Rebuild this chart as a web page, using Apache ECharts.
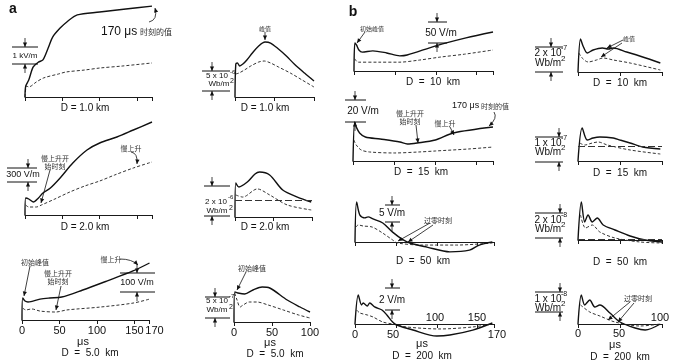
<!DOCTYPE html>
<html><head><meta charset="utf-8">
<script src="https://cdn.jsdelivr.net/npm/echarts@6/dist/echarts.min.js"></script>
<style>html,body{margin:0;padding:0;background:#fff}#c{width:679px;height:363px}</style>
</head><body><div id="c"></div>
<script>
// ---------- data (time in μs, field values in physical units) ----------
// a: D = 1.0 km, E in kV/m ; B in 1e-6 Wb/m2
const a1Solid=[[0,0],[1,0.61],[5,0.94],[11,1.67],[18,1.94],[24,2.06],[31,2.72],[37,3.33],[47,3.83],[56,4.17],[70,4.56],[100,4.72],[135,4.89],[170,5.05]];
const a1Dashed=[[0,0],[2,0.61],[5,0.56],[15,0.83],[25,1.06],[45,1.28],[55,1.39],[80,1.5],[100,1.61],[130,1.72],[170,1.89]];
const a2Solid=[[0,0],[1,7.5],[3,7.73],[6,7.05],[10,7.5],[15,8.41],[22,10],[30,11.59],[38,12.5],[45,12.27],[55,10.91],[65,9.32],[75,7.5],[88,5.45],[100,3.64]];
const a2Dashed=[[1,5.23],[5,5.45],[12,6.14],[20,7.05],[30,7.95],[37,8.18],[45,7.73],[55,6.82],[70,5.45],[85,3.86],[100,2.27]];
// D = 2.0 km, E in V/m ; B in 1e-6 Wb/m2
const a3Solid=[[0,0],[1,340],[5,320],[11,260],[18,340],[24,440],[34,540],[47,740],[64,1040],[83,1300],[100,1440],[123,1560],[145,1700],[170,1860]];
const a3Dashed=[[1,200],[5,160],[15,160],[22,200],[40,320],[60,460],[80,580],[100,680],[120,800],[145,940],[170,1060]];
const a4Solid=[[0,0],[1,2.27],[5,2.0],[16,2.33],[26,2.87],[32,3.0],[45,2.8],[62,1.8],[81,1.33],[99,1.0]];
const a4Dashed=[[1,1.47],[10,1.33],[29,1.87],[45,1.47],[68,0.8],[99,0.47]];
const a4Static=1.13;
// D = 5.0 km, E in V/m ; B in 1e-7 Wb/m2
const a5Solid=[[0,0],[1,116],[4,100],[8,95],[24,110],[37,116],[53,121],[81,158],[113,205],[148,258],[170,300]];
const a5Dashed=[[1,63],[5,53],[13,58],[24,47],[45,42],[60,53],[104,68],[148,89],[170,110]];
const a6Solid=[[0,0],[1,7.5],[5,7.25],[14,7.0],[25,8.0],[37,8.75],[47,8.5],[70,5.5],[87,3.75],[100,2.5]];
const a6Dashed=[[1,7.25],[4,5.5],[8,3.75],[12,4.25],[20,5.0],[30,5.0],[45,4.25],[65,3.0],[85,1.75],[100,1.0]];
// b: D = 10 km, E in V/m ; B in 1e-7 Wb/m2
const b1Solid=[[0,0],[1,67],[3,62],[6,50],[10,45],[23,48],[40,43],[56,36],[65,38],[100,60],[137,79],[170,93]];
const b1Dashed=[[1,29],[5,21],[30,21],[55,21],[80,26],[105,33],[135,40],[170,50]];
const b2Solid=[[0,0],[3,2.64],[6,2.08],[11,1.52],[18,1.76],[29,1.92],[36,1.84],[42,1.92],[58,1.6],[77,1.2],[98,0.72]];
const b2Dashed=[[1,1.52],[5,1.12],[12,0.8],[22,0.96],[30,1.12],[42,0.96],[62,0.72],[98,0.16]];
// D = 15 km, E in V/m ; B in 1e-7 Wb/m2
const b3Solid=[[0,0],[2,35.5],[4,30.9],[8,25.5],[15,21.8],[33,20],[57,17.3],[66,15.5],[78,16.4],[100,19.1],[122,25.5],[170,30.9]];
const b3Dashed=[[1,19.1],[4,14.5],[10,10],[20,8.2],[50,7.3],[80,8.2],[100,9.1],[140,10.9],[170,12.7]];
const b4Solid=[[0,0],[5,1.32],[11,0.84],[18,0.92],[26,0.96],[42,0.92],[50,0.84],[62,0.72],[77,0.56],[98,0.48]];
const b4Dashed=[[2,0.72],[8,0.64],[17,0.72],[24,0.76],[35,0.64],[62,0.44],[98,0.28]];
const b4Static=0.6;
// D = 50 km, E in V/m ; B in 1e-8 Wb/m2
const b5Solid=[[0,0],[2,11.8],[6,7.9],[12,7.1],[16,7.4],[22,6.8],[34,5.6],[46,2.9],[59,0.6],[67,-0.3],[88,-1.5],[116,-2.9],[140,-2.4],[152,-0.9],[168,0]];
const b5Dashed=[[1,4.4],[4,5.0],[10,4.7],[21,4.4],[34,2.6],[46,0.6],[52,-0.3],[83,-0.9],[124,-0.9],[168,-0.3]];
const b7Solid=[[0,0],[4,3.04],[8,1.44],[12,2.0],[17,1.44],[23,1.76],[30,1.2],[44,0.8],[62,0.32],[80,0],[100,-0.16]];
const b7Dashed=[[3,2.0],[9,0.96],[17,1.2],[26,0.64],[44,0.16],[74,-0.16],[100,-0.24]];
const b7Static=0.1;
// D = 200 km, E in V/m ; B in 1e-8 Wb/m2
const b6Solid=[[0,0],[4,2.64],[8,1.73],[10,1.91],[15,1.64],[18,1.91],[24,1.55],[33,1.27],[39,0.82],[46,0.18],[51,-0.09],[71,-0.55],[100,-1.09],[116,-1.0],[144,-0.55],[168,0.09]];
const b6Dashed=[[2,1.27],[6,1.0],[15,0.82],[22,0.64],[34,0.18],[46,0],[63,-0.27],[104,-0.45],[144,-0.27],[168,0]];
const b8Solid=[[0,0],[4,1.45],[8,0.95],[14,1.2],[20,0.85],[26,0.95],[38,0.55],[50,0.1],[68,-0.2],[80,-0.3],[98,0.0]];
const b8Dashed=[[3,0.95],[14,0.6],[26,0.4],[44,0.1],[74,-0.1],[98,0.0]];

const ticks170=[0,50,100,150,170], ticks100=[0,50,100];

// ---------- layout ----------
const panels=[
 {s:a1Solid,d:a1Dashed,x0:25,w:127,tMax:170,axisY:97,ppu:18,yTop:5.3,yBot:0,ticks:ticks170},
 {s:a2Solid,d:a2Dashed,x0:235,w:79,tMax:100,axisY:97,ppu:4.4,yTop:20,yBot:0,ticks:ticks100},
 {s:a3Solid,d:a3Dashed,x0:25,w:127,tMax:170,axisY:215,ppu:0.05,yTop:2000,yBot:0,ticks:ticks170},
 {s:a4Solid,d:a4Dashed,ref:a4Static,x0:235,w:77,tMax:100,axisY:217,ppu:15,yTop:4,yBot:0,ticks:ticks100},
 {s:a5Solid,d:a5Dashed,x0:22,w:127.5,tMax:170,axisY:320,ppu:0.19,yTop:350,yBot:0,ticks:ticks170,labels:ticks170},
 {s:a6Solid,d:a6Dashed,x0:234,w:76,tMax:100,axisY:322,ppu:4,yTop:10,yBot:0,ticks:ticks100,labels:ticks100},
 {s:b1Solid,d:b1Dashed,x0:354,w:139,tMax:170,axisY:71,ppu:0.42,yTop:150,yBot:0,ticks:ticks170},
 {s:b2Solid,d:b2Dashed,x0:578,w:84,tMax:100,axisY:72,ppu:12.5,yTop:4,yBot:0,ticks:ticks100},
 {s:b3Solid,d:b3Dashed,x0:353,w:140,tMax:170,axisY:161,ppu:1.1,yTop:50,yBot:0,ticks:ticks170},
 {s:b4Solid,d:b4Dashed,ref:b4Static,x0:578,w:84,tMax:100,axisY:161,ppu:25,yTop:2,yBot:0,ticks:ticks100},
 {s:b5Solid,d:b5Dashed,x0:355,w:139,tMax:170,axisY:242,ppu:3.4,yTop:14,yBot:-4,ticks:ticks170},
 {s:b7Solid,d:b7Dashed,ref:b7Static,x0:578,w:84,tMax:100,axisY:240,ppu:12.5,yTop:3.5,yBot:-1,ticks:ticks100},
 {s:b6Solid,d:b6Dashed,x0:355,w:139,tMax:170,axisY:324,ppu:11,yTop:3,yBot:-1.6,ticks:ticks170},
 {s:b8Solid,d:b8Dashed,x0:578,w:84,tMax:100,axisY:324,ppu:20,yTop:1.8,yBot:-0.6,ticks:ticks100}
];

const LAT='"Liberation Sans", Arial, sans-serif';
const CJK='"Noto Sans CJK SC", sans-serif';
const grids=[],xAxes=[],yAxes=[],series=[];
panels.forEach((p,i)=>{
  grids.push({left:p.x0,top:p.axisY-p.yTop*p.ppu,width:p.w,height:(p.yTop-p.yBot)*p.ppu,containLabel:false,outerBoundsMode:'none'});
  xAxes.push({gridIndex:i,type:'value',min:0,max:p.tMax,
    axisLine:{onZero:true,lineStyle:{color:'#1a1a1a',width:1.2}},
    axisTick:{show:true,customValues:p.ticks,length:4,lineStyle:{color:'#1a1a1a',width:1}},
    axisLabel:{show:!!p.labels,customValues:p.labels||p.ticks,margin:5,color:'#111',fontSize:11,fontFamily:LAT,
      formatter:v=>v===170?'{r|170}':String(v),
      rich:{r:{fontSize:11,fontFamily:LAT,color:'#111',padding:[0,0,0,10]}}},
    splitLine:{show:false}});
  yAxes.push({gridIndex:i,type:'value',min:p.yBot,max:p.yTop,show:false});
  series.push({type:'line',xAxisIndex:i,yAxisIndex:i,data:p.s,showSymbol:false,smooth:0.3,silent:true,z:3,
    lineStyle:{color:'#111',width:1.4}});
  const ds={type:'line',xAxisIndex:i,yAxisIndex:i,data:p.d,showSymbol:false,smooth:0.3,silent:true,z:2,
    lineStyle:{color:'#333',width:1,type:[3,2]}};
  if(p.ref!==undefined){ds.markLine={silent:true,symbol:'none',label:{show:false},animation:false,
    lineStyle:{color:'#333',width:1,type:[7,3]},data:[{yAxis:p.ref}]};}
  series.push(ds);
});

// ---------- annotations ----------
const G=[];
function T(x,y,s,size,o){o=o||{};G.push({type:'text',x:x,y:y,silent:true,z:10,style:{text:s,
  font:(o.bold?'bold ':'')+size+'px '+(o.cjk?CJK:LAT),fill:o.color||'#111',
  textAlign:o.align||'center',align:o.align||'center',textVerticalAlign:'middle',verticalAlign:'middle'}});}
function L(x1,y1,x2,y2,w){G.push({type:'line',silent:true,z:10,shape:{x1:x1,y1:y1,x2:x2,y2:y2},style:{stroke:'#111',lineWidth:w||1}});}
function H(x1,y1,x2,y2,s){s=s||3;const dx=x2-x1,dy=y2-y1,len=Math.hypot(dx,dy)||1,ux=dx/len,uy=dy/len;
  const bx=x2-ux*s*1.5,by=y2-uy*s*1.5;
  G.push({type:'polygon',silent:true,z:10,shape:{points:[[x2,y2],[bx-uy*s*0.7,by+ux*s*0.7],[bx+uy*s*0.7,by-ux*s*0.7]]},style:{fill:'#111'}});}
function A(x1,y1,x2,y2){L(x1,y1,x2,y2,0.8);H(x1,y1,x2,y2);}
function C(x1,y1,cx,cy,x2,y2){G.push({type:'bezierCurve',silent:true,z:10,shape:{x1:x1,y1:y1,x2:x2,y2:y2,cpx1:cx,cpy1:cy},style:{stroke:'#111',lineWidth:0.8,fill:null}});H(cx,cy,x2,y2);}
function SB(x,yT,yB,xl,xr){L(xl,yT,xr,yT,1);L(xl,yB,xr,yB,1);A(x,yT-9,x,yT);A(x,yB+9,x,yB);}

// panel labels
T(13,9,'a',14,{bold:true});
T(353,12,'b',14,{bold:true});

// a1
T(101,32,'170 μs',12,{align:'left'});
T(140,32,'时刻的值',8,{align:'left',cjk:true,color:'#333'});
C(149,22,158,20,155,8);
SB(25,47,64,12,38);
T(25,56,'1 kV/m',8);
T(85,108,'D = 1.0 km',10);
// a2
T(265,29,'峰值',6,{cjk:true,color:'#333'});
A(265,32,265,40);
SB(212,71,91,202,230);
T(217,76,'5 x 10',8); T(230,72,'-6',6,{align:'left'});
T(219,84,'Wb/m',8); T(230,81,'2',7,{align:'left'});
T(265,108,'D = 1.0 km',10);
// a3
SB(28,168,182,7,37);
T(23,175,'300 V/m',9);
T(55,158,'慢上升开',7,{cjk:true,color:'#333'});
T(55,166,'始时刻',7,{cjk:true,color:'#333'});
A(50,170,41,203);
T(131,148,'慢上升',7,{cjk:true,color:'#333'});
C(131,152,138,153,137,164);
T(85,227,'D = 2.0 km',10);
// a4
SB(212,186,216,204,230);
T(216,202,'2 x 10',8); T(228,197,'-6',6,{align:'left'});
T(217,211,'Wb/m',8); T(229,208,'2',7,{align:'left'});
T(265,227,'D = 2.0 km',10);
// a5
T(35,262,'初始峰值',7,{cjk:true,color:'#333'});
A(30,266,24,296);
T(58,273,'慢上升开',7,{cjk:true,color:'#333'});
T(58,281,'始时刻',7,{cjk:true,color:'#333'});
A(61,286,56,310);
T(111,259,'慢上升',7,{cjk:true,color:'#333'});
C(120,259,132,259,138,265);
SB(137,273,292,120,155);
T(137,283,'100 V/m',9);
T(83,342,'μs',11);
T(90,353,'D  =  5.0  km',10);
// a6
T(252,268,'初始峰值',7,{cjk:true,color:'#333'});
A(246,272,237,290);
SB(215,297,318,205,230);
T(217,301,'5 x 10',8); T(229,296,'-7',6,{align:'left'});
T(217,310,'Wb/m',8); T(229,307,'2',7,{align:'left'});
T(270,343,'μs',11);
T(275,354,'D  =  5.0  km',10);
// b1
T(372,29,'初始峰值',6,{cjk:true,color:'#333'});
A(365,32,357,43);
SB(437,22,43,428,447);
T(441,33,'50 V/m',10);
T(433,82,'D  =  10  km',10);
// b2
T(629,39,'峰值',6,{cjk:true,color:'#333'});
A(623,40,607,48); A(622,43,601,57);
SB(551,47,72,535,563);
T(548,53,'2 x 10',10); T(561,48,'-7',7,{align:'left'});
T(548,63,'Wb/m',10); T(561,59,'2',8,{align:'left'});
T(620,83,'D  =  10  km',10);
// b3
SB(355,100,122,345,366);
T(363,111,'20 V/m',10);
T(410,113,'慢上升开',7,{cjk:true,color:'#333'});
T(410,121,'始时刻',7,{cjk:true,color:'#333'});
A(416,125,418,143);
T(445,123,'慢上升',7,{cjk:true,color:'#333'});
A(450,127,454,135);
T(452,106,'170 μs',9,{align:'left'});
T(481,106,'时刻的值',7,{align:'left',cjk:true,color:'#333'});
C(494,112,498,118,489,126);
T(421,172,'D  =  15  km',10);
// b4
SB(559,137,162,535,563);
T(548,143,'1 x 10',10); T(561,138,'-7',7,{align:'left'});
T(548,152,'Wb/m',10); T(561,148,'2',8,{align:'left'});
T(620,173,'D  =  15  km',10);
// b5
SB(392,205,222,385,400);
T(392,213,'5 V/m',10);
T(438,220,'过零时刻',7,{cjk:true,color:'#333'});
A(430,223,398,241); A(433,225,408,242);
T(423,261,'D  =  50  km',10);
// b7
SB(560,213,238,535,563);
T(548,220,'2 x 10',10); T(561,215,'-8',7,{align:'left'});
T(548,229,'Wb/m',10); T(561,225,'2',8,{align:'left'});
T(620,262,'D  =  50  km',10);
// b6 (tick labels on both sides of the zero axis)
SB(392,288,310,385,400);
T(392,300,'2 V/m',10);
T(355,335,'0',11); T(393,335,'50',11); T(497,335,'170',11);
T(435,318,'100',11); T(477,318,'150',11);
T(422,344,'μs',11);
T(422,356,'D  =  200  km',10);
// b8
SB(560,292,312,535,563);
T(548,299,'1 x 10',10); T(561,294,'-8',7,{align:'left'});
T(548,308,'Wb/m',10); T(561,304,'2',8,{align:'left'});
T(638,298,'过零时刻',7,{cjk:true,color:'#333'});
A(630,302,608,320); A(634,303,618,322);
T(578,334,'0',11); T(619,334,'50',11);
T(660,318,'100',11);
T(615,345,'μs',11);
T(620,357,'D  =  200  km',10);

const chart=echarts.init(document.getElementById('c'),null,{renderer:'canvas'});
chart.setOption({animation:false,backgroundColor:'#fff',grid:grids,xAxis:xAxes,yAxis:yAxes,series:series,graphic:G});
</script></body></html>
